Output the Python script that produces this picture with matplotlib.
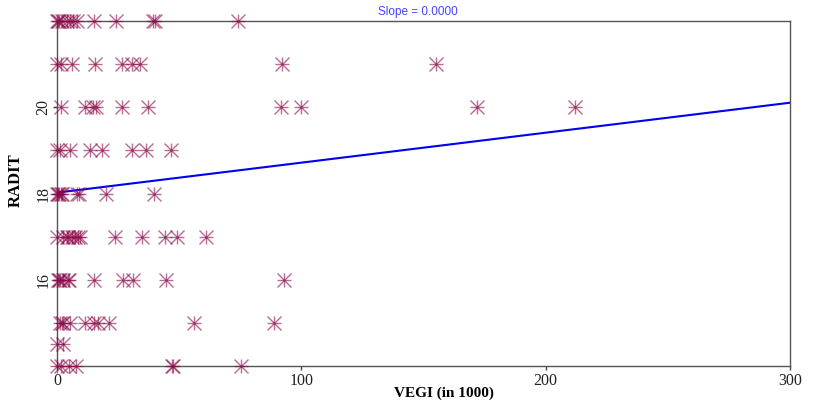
import numpy as np
import matplotlib
matplotlib.use("Agg")
import matplotlib.pyplot as plt

# ── DATOS ─────────────────────────────────────────────────────────────────────
vegi_22 = [0, 0.3, 1, 2, 4, 5.3, 6.7, 8, 15, 24, 39.4, 40, 74.2]
vegi_21 = [0, 1.6, 6, 15.4, 26.7, 30.5, 34, 92, 155.1]
vegi_20 = [1.5, 11.5, 14.9, 15.8, 26.7, 37.4, 91.6, 99.7, 171.8, 211.9]
vegi_19 = [0.2, 1.2, 5.3, 13.7, 18.3, 30.8, 36.4, 46.7]
vegi_18 = [0, 0.5, 1, 1.5, 2.2, 8, 9, 19.9, 39.8]
vegi_17 = [0, 2.6, 4, 4.6, 6, 7.4, 8.7, 9.6, 23.7, 34.7, 44.2, 49, 61]
vegi_16 = [0.3, 0.8, 1.2, 2.6, 4.6, 5, 15.1, 27, 31, 44.6, 92.9]
vegi_15 = [1.2, 2, 2.6, 5.3, 11.6, 15.2, 16.9, 21.2, 56, 88.8]
vegi_145 = [0, 2.3]
vegi_14 = [0, 1.7, 5, 7.9, 47, 47.5, 75.2]

radit_levels = [22, 21, 20, 19, 18, 17, 16, 15, 14.5, 14]
vegi_rows = [vegi_22, vegi_21, vegi_20, vegi_19, vegi_18,
             vegi_17, vegi_16, vegi_15, vegi_145, vegi_14]

# recta de regresión
line_intercept = 18.02
line_slope = 0.00695

x_ticks = [0, 100, 200, 300]
y_ticks = [16, 18, 20]

vegi = np.concatenate([np.array(r, dtype=float) for r in vegi_rows])
radit = np.concatenate([np.full(len(r), lvl) for r, lvl in zip(vegi_rows, radit_levels)])

# ── FIGURA ────────────────────────────────────────────────────────────────────
fig = plt.figure(figsize=(8.35, 4.17), dpi=100)
ax = fig.add_axes([57 / 835, 1 - 366 / 417, 733 / 835, 345 / 417])

serif = ["Liberation Serif", "DejaVu Serif"]
col_pt = "#8b0a4a"

# asterisco estilo R (pch=8): "+" y "x" superpuestos
for m in ["+", "x"]:
    ax.plot(vegi, radit, linestyle="none", marker=m, markersize=9.5,
            markeredgewidth=1.0, color=col_pt, alpha=0.6,
            clip_on=False, zorder=4)

xs = np.array([0, 300])
ax.plot(xs, line_intercept + line_slope * xs, color="#0000ee",
        linewidth=1.5, zorder=3)

ax.set_xlim(0, 300)
ax.set_ylim(14, 22)
ax.set_xticks(x_ticks)
ax.set_yticks(y_ticks)
ax.set_xticklabels([str(t) for t in x_ticks], fontsize=11.5, family=serif)
ax.set_yticklabels([str(t) for t in y_ticks], fontsize=11.5, family=serif,
                   rotation=90, va="center")
ax.tick_params(direction="out", length=3, width=1, color="#444444",
               labelcolor="#222222")
ax.tick_params(axis="x", pad=2)
ax.tick_params(axis="y", pad=1)

for s in ax.spines.values():
    s.set_color("#555555")
    s.set_linewidth(1.0)

ax.set_xlabel("VEGI (in 1000)", fontsize=11, fontweight="bold",
              family=serif, va="center")
ax.set_ylabel("RADIT", fontsize=12, fontweight="bold",
              family=serif, va="center")
ax.xaxis.set_label_coords((443.5 - 57) / 733, (366 - 393) / 345)
ax.yaxis.set_label_coords((16 - 57) / 733, (366 - 180) / 345)

fig.text(0.5, 1 - 12 / 417, "Slope = 0.0000", ha="center", va="center",
         fontsize=8.5, color="#4444ff", family=["Liberation Sans", "DejaVu Sans"])

fig.savefig("out.png", dpi=100)
